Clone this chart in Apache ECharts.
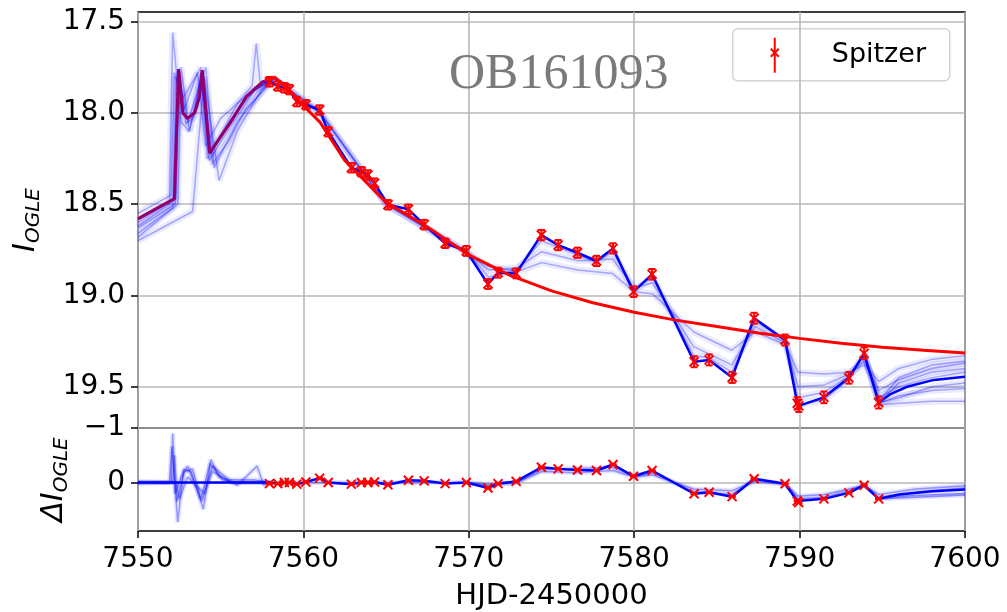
<!DOCTYPE html>
<html>
<head>
<meta charset="utf-8">
<script src="https://cdn.jsdelivr.net/npm/echarts@6/dist/echarts.min.js"></script>
<style>
  html, body { margin: 0; padding: 0; background: #fff; }
  #chart { width: 1007px; height: 612px; }
</style>
</head>
<body>
<div id="chart"></div>
<script>
// Spitzer data: epoch, I magnitude, error, residual vs. red model
const spitzerHJD = [7557.95, 7558.45, 7558.85, 7559.15, 7559.6, 7560.15, 7560.98, 7561.5, 7562.9, 7563.5,
  7563.9, 7564.3, 7565.11, 7566.35, 7567.3, 7568.57, 7569.85, 7571.16, 7571.77, 7572.86,
  7574.39, 7575.4, 7576.57, 7577.72, 7578.72, 7579.96, 7581.08, 7583.62, 7584.53, 7585.92,
  7587.25, 7589.12, 7589.86, 7589.95, 7591.47, 7592.98, 7593.9, 7594.78]
const spitzerMag = [17.829, 17.852, 17.862, 17.872, 17.938, 17.955, 17.984, 18.103, 18.300, 18.322,
  18.340, 18.385, 18.503, 18.528, 18.612, 18.714, 18.756, 18.937, 18.875, 18.879,
  18.669, 18.724, 18.766, 18.811, 18.742, 18.979, 18.884, 19.363, 19.353, 19.449,
  19.125, 19.244, 19.590, 19.605, 19.558, 19.451, 19.317, 19.586]
const spitzerErr = [0.026, 0.026, 0.026, 0.026, 0.026, 0.026, 0.026, 0.026, 0.026, 0.026,
  0.026, 0.026, 0.026, 0.026, 0.026, 0.026, 0.027, 0.027, 0.027, 0.027,
  0.028, 0.028, 0.028, 0.028, 0.028, 0.029, 0.029, 0.03, 0.03, 0.03,
  0.03, 0.03, 0.033, 0.033, 0.032, 0.032, 0.032, 0.033]
const spitzerRes = [0.02, 0.02, 0.0, 0.0, 0.03, -0.01, -0.08, 0.0, 0.03, 0.0,
  0.0, -0.01, 0.04, -0.04, -0.03, 0.02, 0.0, 0.1, 0.02, -0.02,
  -0.28, -0.25, -0.23, -0.22, -0.33, -0.115, -0.22, 0.206, 0.18, 0.26,
  -0.07, 0.024, 0.34, 0.37, 0.3, 0.19, 0.05, 0.3]

// red model (reference light curve)
const redModel = [[7550, 18.58], [7551, 18.53], [7552.2, 18.47], [7552.45, 17.76], [7552.71, 18.0],
  [7553.0, 18.03], [7553.42, 18.0], [7553.72, 17.91], [7553.88, 17.765], [7554.33, 18.22],
  [7555.0, 18.13], [7555.55, 18.057], [7556.55, 17.911], [7557.55, 17.829], [7558.26, 17.805],
  [7559, 17.86], [7560, 17.96], [7561, 18.05], [7562.5, 18.26], [7565, 18.49], [7567.5, 18.625],
  [7570, 18.778], [7572.5, 18.89], [7575, 18.975], [7577.5, 19.04], [7580, 19.092], [7582.5, 19.135],
  [7585, 19.17], [7587.5, 19.205], [7590, 19.235], [7592.5, 19.262], [7595, 19.283], [7597.5, 19.30],
  [7600, 19.315]]

// best blue model, early part (coincides with red) and tail after last point
const blueEarly = [[7550, 18.58], [7551, 18.53], [7552.2, 18.47], [7552.45, 17.76], [7552.71, 18.0],
  [7553.0, 18.03], [7553.42, 18.0], [7553.72, 17.91], [7553.88, 17.765], [7554.33, 18.22],
  [7555.0, 18.13], [7555.55, 18.057], [7556.55, 17.911], [7557.55, 17.829], [7557.95, 17.829]]
const blueTail = [[7594.78, 19.586], [7595.5, 19.54], [7596.5, 19.50], [7598, 19.465], [7600, 19.445]]

// other blue models of the bundle
const blueVar1 = [[7550, 18.62], [7551.9, 18.5], [7552.1, 17.56], [7552.5, 17.95], [7553.5, 17.8], [7553.8, 17.75],
  [7554.2, 18.25], [7555.5, 18.05], [7557, 17.88], [7558.2, 17.81], [7561, 17.99], [7565, 18.5], [7569.85, 18.756],
  [7571.2, 18.9], [7572.9, 18.86], [7574.4, 18.70], [7576.6, 18.78], [7577.7, 18.82], [7578.7, 18.76], [7580, 18.97],
  [7581.1, 18.9], [7583.6, 19.33], [7584.5, 19.34], [7585.9, 19.42], [7587.3, 19.14], [7589.15, 19.25], [7589.9, 19.56],
  [7591.5, 19.53], [7593, 19.44], [7593.9, 19.33], [7594.8, 19.56], [7596, 19.50], [7598, 19.45], [7600, 19.42]]
const blueVar2 = [[7550, 18.68], [7552.4, 18.5], [7552.6, 17.75], [7553.1, 18.1], [7554.1, 17.75], [7554.6, 18.3],
  [7556, 18.05], [7557.5, 17.88], [7558.2, 17.81], [7561, 18.0], [7565, 18.5], [7569.85, 18.76], [7571.2, 18.86],
  [7572.9, 18.85], [7574.4, 18.76], [7576.6, 18.81], [7578.7, 18.80], [7580, 18.96], [7581.1, 18.93], [7583.6, 19.28],
  [7585.9, 19.38], [7587.3, 19.17], [7589.15, 19.26], [7589.9, 19.50], [7591.5, 19.49], [7593, 19.43], [7593.9, 19.36],
  [7594.8, 19.52], [7596, 19.46], [7598, 19.40], [7600, 19.37]]
const blueVar3 = [[7550, 18.55], [7552.0, 18.45], [7552.2, 17.78], [7552.8, 17.98], [7553.6, 17.78], [7554.1, 18.18],
  [7555, 18.03], [7556.6, 17.9], [7558.2, 17.81], [7561, 18.0], [7565, 18.5], [7569.85, 18.77], [7571.2, 18.84],
  [7572.9, 18.87], [7574.4, 18.82], [7576.6, 18.86], [7578.7, 18.88], [7580, 18.98], [7581.1, 18.99], [7583.6, 19.2],
  [7585.9, 19.3], [7587.3, 19.2], [7589.15, 19.27], [7589.9, 19.42], [7591.5, 19.43], [7593, 19.42], [7593.9, 19.38],
  [7594.8, 19.47], [7596, 19.40], [7598, 19.35], [7600, 19.33]]
const blueVar4 = [[7550, 18.7], [7553.3, 18.54], [7554.0, 17.8], [7554.9, 18.37], [7556, 18.1], [7557.5, 17.87],
  [7558.2, 17.81]]
const blueVar5 = [[7550, 18.6], [7552.3, 18.47], [7552.5, 17.8], [7553, 18.05], [7553.9, 17.8], [7554.4, 18.22],
  [7556, 17.95], [7556.9, 17.85], [7557.15, 17.62], [7557.4, 17.85], [7558.2, 17.81]]
const blueVar6 = [[7550, 18.63], [7552.25, 18.5], [7552.5, 17.77], [7552.9, 18.06], [7553.4, 18.02], [7553.8, 17.78],
  [7554.3, 18.26], [7555.5, 18.09], [7557, 17.88], [7558.2, 17.81]]
const blueVar7 = [[7550, 18.66], [7552.1, 18.52], [7552.3, 17.8], [7552.6, 18.05], [7553.1, 18.1], [7553.7, 17.85],
  [7554.0, 17.82], [7554.5, 18.28], [7555.5, 18.15], [7556.5, 17.98], [7558.2, 17.82]]
const blueTailVar1 = [[7589.9, 19.60], [7591.5, 19.57], [7593, 19.46], [7593.9, 19.32], [7594.8, 19.60], [7596, 19.59],
  [7598, 19.58], [7600, 19.58]]
const blueTailVar2 = [[7593.9, 19.32], [7594.8, 19.59], [7596, 19.55], [7598, 19.52], [7600, 19.51]]
const blueTailVar3 = [[7593.9, 19.32], [7594.8, 19.58], [7596, 19.45], [7598, 19.38], [7600, 19.36]]
const blueTailVar4 = [[7594.8, 19.586], [7596, 19.48], [7598, 19.42], [7600, 19.40]]
const blueTailVar5 = [[7594.8, 19.586], [7596, 19.56], [7598, 19.50], [7600, 19.48]]

// residual models
const resBestEarly = [[7550, 0], [7557.95, 0]]
const resBestTail = [[7594.78, 0.3], [7596, 0.22], [7598, 0.16], [7600, 0.13]]
const resVar1 = [[7550, 0], [7551.9, 0], [7552.05, -0.66], [7552.2, -0.1], [7552.4, 0.73], [7552.75, -0.24],
  [7553.2, -0.2], [7553.7, 0.25], [7553.95, 0.49], [7554.4, -0.42], [7554.9, -0.11], [7555.7, 0], [7558, 0]]
const resVar2 = [[7550, 0], [7552.1, 0], [7552.2, -0.5], [7552.35, 0.35], [7552.8, -0.2], [7553.3, -0.25],
  [7553.8, 0.3], [7554.35, -0.35], [7555.1, -0.05], [7556, 0], [7558, 0]]
const resVar3 = [[7550, 0.02], [7552.0, 0], [7552.1, -0.9], [7552.25, 0.2], [7552.6, -0.1], [7553.0, -0.3],
  [7553.6, 0.15], [7553.85, 0.35], [7554.5, -0.3], [7555.5, -0.05], [7557, -0.05], [7558, 0]]
const resVar4 = [[7550, -0.02], [7552.3, 0], [7552.5, 0.3], [7553, -0.1], [7554, 0.2], [7554.5, -0.2],
  [7556, 0.05], [7557.2, -0.3], [7557.6, 0.05], [7558, 0]]
const resVar5 = [[7558, 0], [7569.85, 0], [7571.2, 0.03], [7572.9, 0.0], [7574.4, -0.2], [7576.6, -0.18],
  [7578.7, -0.22], [7580, -0.1], [7581.1, -0.14], [7583.6, 0.12], [7585.9, 0.15], [7587.3, -0.02], [7589.15, 0.03],
  [7589.9, 0.25], [7591.5, 0.22], [7593, 0.12], [7593.9, 0.06], [7594.8, 0.22], [7597, 0.12], [7600, 0.06]]
const resVar6 = [[7569.85, 0], [7571.2, 0.06], [7572.9, 0.0], [7574.4, -0.24], [7578.7, -0.28], [7580, -0.11],
  [7581.1, -0.18], [7583.6, 0.17], [7585.9, 0.22], [7587.3, -0.05], [7589.15, 0.03], [7589.9, 0.3], [7591.5, 0.27],
  [7593, 0.15], [7593.9, 0.04], [7594.8, 0.28], [7597, 0.24], [7600, 0.2]]
const resTailVar1 = [[7594.8, 0.3], [7597, 0.18], [7600, 0.1]]
const resTailVar2 = [[7594.8, 0.3], [7597, 0.27], [7600, 0.23]]

const magTicks = [17.5, 18.0, 18.5, 19.0, 19.5]
const resTicks = [-1, 0]

const chart = echarts.init(document.getElementById('chart'))

const RED = '#ff0000'
const BLUE = '#0000ff'
const FONT = 'DejaVu Sans'

function crossMarker(params, api) {
  const c = api.coord([api.value(0), api.value(1)])
  const lo = api.coord([api.value(0), api.value(1) - api.value(2)])
  const hi = api.coord([api.value(0), api.value(1) + api.value(2)])
  const r = 4.5, cap = 3.5
  const st = { stroke: RED, lineWidth: 2 }
  return {
    type: 'group',
    children: [
      { type: 'line', shape: { x1: c[0] - r, y1: c[1] - r, x2: c[0] + r, y2: c[1] + r }, style: st },
      { type: 'line', shape: { x1: c[0] - r, y1: c[1] + r, x2: c[0] + r, y2: c[1] - r }, style: st },
      { type: 'line', shape: { x1: c[0], y1: lo[1], x2: c[0], y2: hi[1] }, style: st },
      { type: 'line', shape: { x1: c[0] - cap, y1: lo[1], x2: c[0] + cap, y2: lo[1] }, style: st },
      { type: 'line', shape: { x1: c[0] - cap, y1: hi[1], x2: c[0] + cap, y2: hi[1] }, style: st }
    ]
  }
}

function lineSeries(data, axis, color, width, opacity, z) {
  return {
    type: 'line', data: data, xAxisIndex: axis, yAxisIndex: axis,
    showSymbol: false, silent: true, z: z || 2,
    lineStyle: { color: color, width: width, opacity: opacity }
  }
}

const topVars = [blueVar1, blueVar2, blueVar3, blueVar4, blueVar5, blueVar6, blueVar7,
  blueTailVar1, blueTailVar2, blueTailVar3, blueTailVar4, blueTailVar5]
const resVars = [resVar1, resVar2, resVar3, resVar4, resVar5, resVar6, resTailVar1, resTailVar2]

const blueLate = spitzerHJD.map((x, i) => [x, spitzerMag[i]]).concat(blueTail)
const resLate = resBestEarly.concat(spitzerHJD.map((x, i) => [x, spitzerRes[i]])).concat(resBestTail)

const series = []
topVars.forEach(v => {
  series.push(lineSeries(v, 0, BLUE, 7, 0.08))
  series.push(lineSeries(v, 0, BLUE, 1.5, 0.3))
})
series.push(lineSeries(blueLate, 0, BLUE, 2.5, 1))
series.push(lineSeries(redModel, 0, RED, 3, 1, 3))
series.push(lineSeries(blueEarly, 0, BLUE, 3, 0.45, 4))
resVars.forEach(v => {
  series.push(lineSeries(v, 1, BLUE, 5, 0.1))
  series.push(lineSeries(v, 1, BLUE, 1.5, 0.35))
})
series.push(lineSeries(resLate, 1, BLUE, 2.5, 1, 3))
series.push({
  type: 'custom', xAxisIndex: 0, yAxisIndex: 0, z: 5, silent: true,
  renderItem: crossMarker,
  data: spitzerHJD.map((x, i) => [x, spitzerMag[i], spitzerErr[i]])
})
series.push({
  type: 'custom', xAxisIndex: 1, yAxisIndex: 1, z: 5, silent: true,
  renderItem: crossMarker,
  data: spitzerHJD.map((x, i) => [x, spitzerRes[i], 0.005])
})

const gridLine = { show: true, lineStyle: { color: '#b8b8b8', width: 1.6 } }
const minus = v => (v < 0 ? '\u2212' + Math.abs(v) : String(v))
const subRich = {
  i: { fontFamily: FONT, fontStyle: 'italic', fontSize: 30, color: '#000' },
  s: { fontFamily: FONT, fontStyle: 'italic', fontSize: 20, color: '#000', padding: [16, 0, 0, 0] }
}

chart.setOption({
  animation: false,
  backgroundColor: '#fff',
  title: {
    text: 'OB161093',
    left: 444, top: 45,
    textStyle: { fontFamily: 'Liberation Serif', fontSize: 50, fontWeight: 'normal', color: '#7a7a7a' }
  },
  grid: [
    { left: 138, top: 12, width: 827, height: 416, show: true, borderColor: '#000', borderWidth: 1.5 },
    { left: 138, top: 428, width: 827, height: 104, show: true, borderColor: '#000', borderWidth: 1.5 }
  ],
  xAxis: [
    {
      type: 'value', gridIndex: 0, min: 7550, max: 7600, interval: 10,
      axisLine: { show: false, onZero: false }, axisTick: { show: false }, axisLabel: { show: false },
      splitLine: gridLine
    },
    {
      type: 'value', gridIndex: 1, min: 7550, max: 7600, interval: 10, position: 'bottom',
      axisLine: { show: false, onZero: false },
      axisTick: { show: true, length: 7, lineStyle: { color: '#000', width: 1.5 } },
      axisLabel: { margin: 15, fontFamily: FONT, fontSize: 28, color: '#000', formatter: v => String(v) },
      splitLine: gridLine,
      name: 'HJD-2450000', nameLocation: 'middle', nameGap: 51,
      nameTextStyle: { fontFamily: FONT, fontSize: 29, color: '#000' }
    }
  ],
  yAxis: [
    {
      type: 'value', gridIndex: 0, inverse: true, min: 17.447, max: 19.726,
      axisLine: { show: false, onZero: false },
      axisTick: { show: true, length: 7, customValues: magTicks, lineStyle: { color: '#000', width: 1.5 } },
      axisLabel: { margin: 13, fontFamily: FONT, fontSize: 28, color: '#000', customValues: magTicks, formatter: v => v.toFixed(1) },
      splitLine: gridLine,
      name: '{i|I}{s|OGLE}', nameLocation: 'middle', nameGap: 94, nameRotate: 90,
      nameTextStyle: { color: '#000', rich: subRich }
    },
    {
      type: 'value', gridIndex: 1, inverse: true, min: -1, max: 0.89,
      axisLine: { show: false, onZero: false },
      axisTick: { show: true, length: 7, customValues: resTicks, lineStyle: { color: '#000', width: 1.5 } },
      axisLabel: { margin: 13, fontFamily: FONT, fontSize: 28, color: '#000', customValues: resTicks, formatter: minus },
      splitLine: gridLine,
      name: '{i|\u0394I}{s|OGLE}', nameLocation: 'middle', nameGap: 66, nameRotate: 90,
      nameTextStyle: { color: '#000', rich: subRich }
    }
  ],
  graphic: [{
    type: 'group', left: 732, top: 28, z: 10,
    children: [
      { type: 'rect', shape: { x: 0, y: 0, width: 217, height: 52, r: 5 },
        style: { fill: 'rgba(255,255,255,0.8)', stroke: '#d4d4d4', lineWidth: 1.5 } },
      { type: 'line', shape: { x1: 42, y1: 9, x2: 42, y2: 44 }, style: { stroke: RED, lineWidth: 2 } },
      { type: 'line', shape: { x1: 38, y1: 20, x2: 46, y2: 28 }, style: { stroke: RED, lineWidth: 2 } },
      { type: 'line', shape: { x1: 38, y1: 28, x2: 46, y2: 20 }, style: { stroke: RED, lineWidth: 2 } },
      { type: 'text', x: 99, y: 26,
        style: { text: 'Spitzer', font: '27px "DejaVu Sans"', fill: '#000', verticalAlign: 'middle' } }
    ]
  }],
  series: series
})
</script>
</body>
</html>
